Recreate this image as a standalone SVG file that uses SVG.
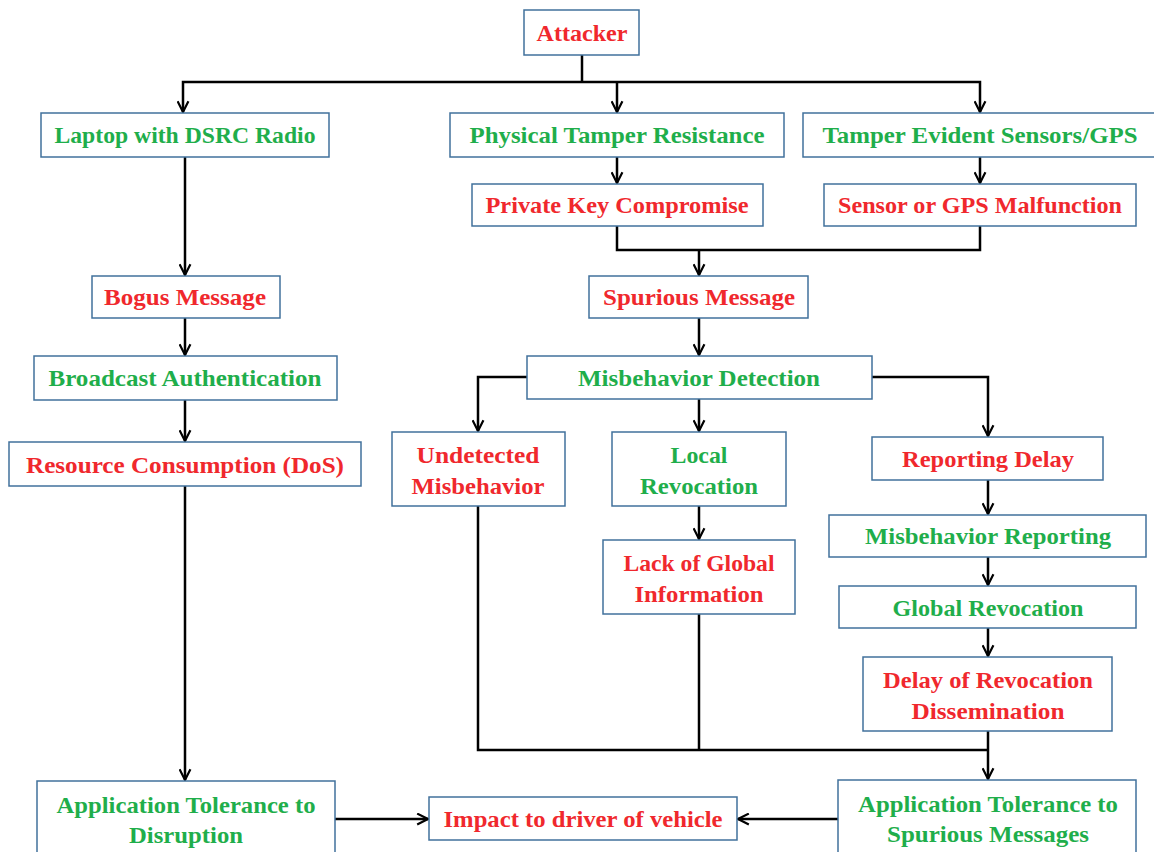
<svg xmlns="http://www.w3.org/2000/svg" width="1154" height="852" viewBox="0 0 1154 852">
  <defs>
    <marker id="arrow" viewBox="0 0 12 12" refX="11" refY="6" markerWidth="13" markerHeight="13" markerUnits="userSpaceOnUse" orient="auto">
      <path d="M1,1 L11,6 L1,11" fill="none" stroke="#000" stroke-width="2"/>
    </marker>
    <style>
      .box { fill: #fff; stroke: #41719c; stroke-width: 1.5; }
      .t { font-family: "Liberation Serif", "Times New Roman", serif; font-size: 24px; font-weight: bold; text-anchor: middle; }
      .red { fill: #f0282d; }
      .green { fill: #1fae4b; }
      .conn path { fill: none; stroke: #000; stroke-width: 2.5; }
      .conn .a { marker-end: url(#arrow); }
    </style>
  </defs>
  <rect width="1154" height="852" fill="#fff"/>

  <!-- connectors -->
  <g id="connectors" class="conn">
    <path d="M582,55 V82"/>
    <path d="M582,82 H183 V112" class="a"/>
    <path d="M582,82 H980 V112" class="a"/>
    <path d="M617,82 V112" class="a"/>
    <path d="M617,157 V183" class="a"/>
    <path d="M980,157 V183" class="a"/>
    <path d="M617,226 V250 H980 V226"/>
    <path d="M699,250 V275" class="a"/>
    <path d="M185,157 V275" class="a"/>
    <path d="M185,318 V355" class="a"/>
    <path d="M185,400 V441" class="a"/>
    <path d="M185,486 V780" class="a"/>
    <path d="M335,819 H428" class="a"/>
    <path d="M838,819 H738" class="a"/>
    <path d="M699,318 V355" class="a"/>
    <path d="M527,377 H478 V431" class="a"/>
    <path d="M699,399 V431" class="a"/>
    <path d="M699,506 V539" class="a"/>
    <path d="M872,377 H988 V436" class="a"/>
    <path d="M988,480 V514" class="a"/>
    <path d="M988,557 V585" class="a"/>
    <path d="M988,628 V656" class="a"/>
    <path d="M478,506 V750 H988"/>
    <path d="M699,614 V750"/>
    <path d="M988,731 V779" class="a"/>
  </g>

  <g id="attacker">
    <rect class="box" x="524" y="10" width="115" height="45"/>
    <text class="t red" x="582" y="41" textLength="91" lengthAdjust="spacingAndGlyphs">Attacker</text>
  </g>
  <g id="laptop">
    <rect class="box" x="41" y="113" width="288" height="44"/>
    <text class="t green" x="185" y="143" textLength="261" lengthAdjust="spacingAndGlyphs">Laptop with DSRC Radio</text>
  </g>
  <g id="physical-tamper">
    <rect class="box" x="450" y="113" width="334" height="44"/>
    <text class="t green" x="617" y="143" textLength="295" lengthAdjust="spacingAndGlyphs">Physical Tamper Resistance</text>
  </g>
  <g id="tamper-evident">
    <rect class="box" x="803" y="113" width="352" height="44"/>
    <text class="t green" x="980" y="143" textLength="315" lengthAdjust="spacingAndGlyphs">Tamper Evident Sensors/GPS</text>
  </g>
  <g id="private-key">
    <rect class="box" x="472" y="184" width="291" height="42"/>
    <text class="t red" x="617" y="213" textLength="263" lengthAdjust="spacingAndGlyphs">Private Key Compromise</text>
  </g>
  <g id="sensor-malfunction">
    <rect class="box" x="824" y="184" width="312" height="42"/>
    <text class="t red" x="980" y="213" textLength="284" lengthAdjust="spacingAndGlyphs">Sensor or GPS Malfunction</text>
  </g>
  <g id="spurious-message">
    <rect class="box" x="589" y="276" width="219" height="42"/>
    <text class="t red" x="699" y="305" textLength="192" lengthAdjust="spacingAndGlyphs">Spurious Message</text>
  </g>
  <g id="bogus-message">
    <rect class="box" x="92" y="276" width="188" height="42"/>
    <text class="t red" x="185" y="305" textLength="162" lengthAdjust="spacingAndGlyphs">Bogus Message</text>
  </g>
  <g id="broadcast-auth">
    <rect class="box" x="34" y="356" width="303" height="44"/>
    <text class="t green" x="185" y="386" textLength="273" lengthAdjust="spacingAndGlyphs">Broadcast Authentication</text>
  </g>
  <g id="resource-consumption">
    <rect class="box" x="9" y="442" width="352" height="44"/>
    <text class="t red" x="185" y="473" textLength="318" lengthAdjust="spacingAndGlyphs">Resource Consumption (DoS)</text>
  </g>
  <g id="misbehavior-detection">
    <rect class="box" x="527" y="356" width="345" height="43"/>
    <text class="t green" x="699" y="386" textLength="242" lengthAdjust="spacingAndGlyphs">Misbehavior Detection</text>
  </g>
  <g id="undetected">
    <rect class="box" x="392" y="432" width="173" height="74"/>
    <text class="t red" x="478" y="463" textLength="123" lengthAdjust="spacingAndGlyphs">Undetected</text>
    <text class="t red" x="478" y="494" textLength="133" lengthAdjust="spacingAndGlyphs">Misbehavior</text>
  </g>
  <g id="local-revocation">
    <rect class="box" x="612" y="432" width="174" height="74"/>
    <text class="t green" x="699" y="463" textLength="57" lengthAdjust="spacingAndGlyphs">Local</text>
    <text class="t green" x="699" y="494" textLength="118" lengthAdjust="spacingAndGlyphs">Revocation</text>
  </g>
  <g id="lack-global">
    <rect class="box" x="603" y="540" width="192" height="74"/>
    <text class="t red" x="699" y="571" textLength="151" lengthAdjust="spacingAndGlyphs">Lack of Global</text>
    <text class="t red" x="699" y="602" textLength="129" lengthAdjust="spacingAndGlyphs">Information</text>
  </g>
  <g id="reporting-delay">
    <rect class="box" x="872" y="437" width="231" height="43"/>
    <text class="t red" x="988" y="467" textLength="172" lengthAdjust="spacingAndGlyphs">Reporting Delay</text>
  </g>
  <g id="misbehavior-reporting">
    <rect class="box" x="829" y="515" width="317" height="42"/>
    <text class="t green" x="988" y="544" textLength="246" lengthAdjust="spacingAndGlyphs">Misbehavior Reporting</text>
  </g>
  <g id="global-revocation">
    <rect class="box" x="839" y="586" width="297" height="42"/>
    <text class="t green" x="988" y="616" textLength="191" lengthAdjust="spacingAndGlyphs">Global Revocation</text>
  </g>
  <g id="revocation-delay">
    <rect class="box" x="863" y="657" width="249" height="74"/>
    <text class="t red" x="988" y="688" textLength="210" lengthAdjust="spacingAndGlyphs">Delay of Revocation</text>
    <text class="t red" x="988" y="719" textLength="153" lengthAdjust="spacingAndGlyphs">Dissemination</text>
  </g>
  <g id="tolerance-disruption">
    <rect class="box" x="37" y="781" width="298" height="80"/>
    <text class="t green" x="186" y="813" textLength="259" lengthAdjust="spacingAndGlyphs">Application Tolerance to</text>
    <text class="t green" x="186" y="843" textLength="114" lengthAdjust="spacingAndGlyphs">Disruption</text>
  </g>
  <g id="impact">
    <rect class="box" x="429" y="797" width="308" height="43"/>
    <text class="t red" x="583" y="827" textLength="279" lengthAdjust="spacingAndGlyphs">Impact to driver of vehicle</text>
  </g>
  <g id="tolerance-spurious">
    <rect class="box" x="838" y="780" width="298" height="80"/>
    <text class="t green" x="988" y="812" textLength="260" lengthAdjust="spacingAndGlyphs">Application Tolerance to</text>
    <text class="t green" x="988" y="842" textLength="202" lengthAdjust="spacingAndGlyphs">Spurious Messages</text>
  </g>
</svg>
